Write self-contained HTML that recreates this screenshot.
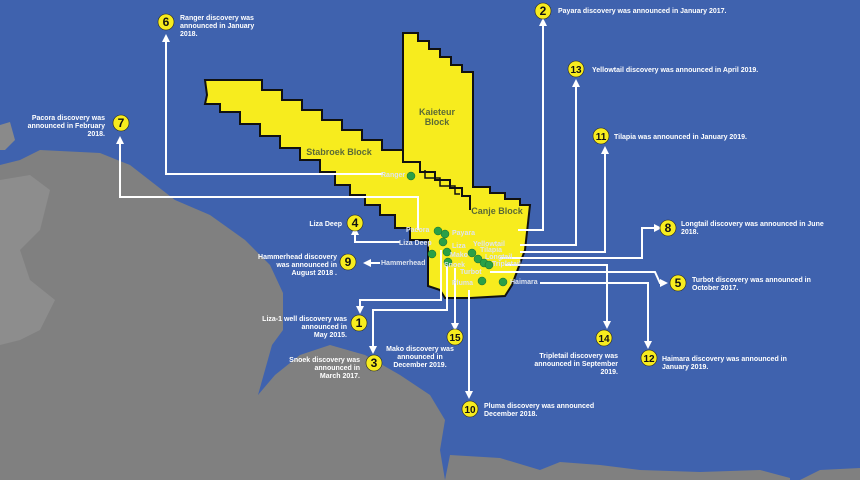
<!DOCTYPE html>
<html><head><meta charset="utf-8"><style>
html,body{margin:0;padding:0;background:#3f62ae;}
svg{display:block}
text{font-family:"Liberation Sans",sans-serif;}
.l{fill:#fff;font-size:7px;font-weight:bold}
.n{fill:#111;font-size:12px;font-weight:bold;text-anchor:middle}
.w{fill:#dfe4ef;font-size:7px;font-weight:bold}
.c{fill:none;stroke:#fff;stroke-width:2}
</style></head><body>
<svg width="860" height="480" viewBox="0 0 860 480" xmlns="http://www.w3.org/2000/svg">
<defs><marker id="a" viewBox="0 0 10 10" refX="5" refY="5" markerWidth="4" markerHeight="4" orient="auto-start-reverse"><path d="M0,0L10,5L0,10z" fill="#fff"/></marker></defs>
<rect width="860" height="480" fill="#3f62ae"/>
<!-- land -->
<path d="M0,125 L10,122 L15,140 L5,150 L0,150 Z" fill="#8a8a8a"/>
<path d="M0,165 L20,160 L40,150 L100,153 L130,165 L175,200 L210,215 L245,240 L270,265 L283,293 L283,330 L272,345 L258,395 L275,375 L300,355 L330,345 L365,355 L400,375 L430,395 L445,420 L440,450 L445,480 L0,480 Z" fill="#808080"/>
<path d="M0,180 L30,175 L50,190 L40,230 L20,250 L30,280 L55,300 L40,330 L20,340 L0,345 Z" fill="#9a9a9a" opacity="0.5"/>
<path d="M445,480 L450,455 L500,458 L540,470 L560,462 L600,465 L640,470 L700,472 L760,470 L790,478 L790,480 Z" fill="#808080"/>
<path d="M800,480 L820,470 L860,468 L860,480 Z" fill="#808080"/>
<!-- blocks -->
<path d="M205,80 L262,80 L262,90 L282,90 L282,100 L302,100 L302,110 L322,110 L322,120 L342,120 L342,130 L362,130 L362,140 L382,140 L382,150 L403,150 L403,33 L418,33 L418,41 L429,41 L429,49 L440,49 L440,57 L451,57 L451,65 L462,65 L462,72 L473,72 L473,187 L490,187 L490,193 L505,193 L505,199 L520,199 L520,205 L530,205 L525,250 L512,285 L505,296 L470,298 L445,298 L440,290 L428,286 L428,240 L410,240 L410,228 L395,228 L395,215 L380,215 L380,205 L365,205 L365,195 L350,195 L350,185 L335,185 L335,172 L320,172 L320,160 L300,160 L300,148 L280,148 L280,136 L260,136 L260,124 L240,124 L240,112 L220,112 L220,104 L205,104 L207,95 Z" fill="#f7ec1e" stroke="#111" stroke-width="2"/>
<path d="M403,150 L403,162 L420,162 L420,172 L435,172 L435,180 L450,180 L450,188 L462,188 L462,196 L470,196 L470,210" fill="none" stroke="#111" stroke-width="2"/>
<path d="M425,170 L425,178 L440,178 L440,186 L455,186 L455,194 L460,194" fill="none" stroke="#111" stroke-width="1.5"/>
<text x="339" y="155" text-anchor="middle" fill="#5b6a36" font-size="9" font-weight="bold">Stabroek Block</text>
<text x="437" y="115" text-anchor="middle" fill="#5b6a36" font-size="9" font-weight="bold">Kaieteur</text>
<text x="437" y="125" text-anchor="middle" fill="#5b6a36" font-size="9" font-weight="bold">Block</text>
<text x="497" y="214" text-anchor="middle" fill="#5b6a36" font-size="9" font-weight="bold">Canje Block</text>
<!-- connectors -->
<path class="c" d="M383,174 L166,174 L166,38" marker-end="url(#a)"/>
<path class="c" d="M418,230 L418,197 L120,197 L120,140" marker-end="url(#a)"/>
<path class="c" d="M400,242 L355,242 L355,231" marker-end="url(#a)"/>
<path class="c" d="M380,263 L367,263" marker-end="url(#a)"/>
<path class="c" d="M441,250 L441,300 L360,300 L360,310" marker-end="url(#a)"/>
<path class="c" d="M447,262 L447,310 L373,310 L373,350" marker-end="url(#a)"/>
<path class="c" d="M455,268 L455,327" marker-end="url(#a)"/>
<path class="c" d="M469,290 L469,395" marker-end="url(#a)"/>
<path class="c" d="M518,230 L543,230 L543,22" marker-end="url(#a)"/>
<path class="c" d="M520,245 L576,245 L576,83" marker-end="url(#a)"/>
<path class="c" d="M520,252 L605,252 L605,150" marker-end="url(#a)"/>
<path class="c" d="M500,258 L642,258 L642,228 L658,228" marker-end="url(#a)"/>
<path class="c" d="M505,265 L607,265 L607,325" marker-end="url(#a)"/>
<path class="c" d="M490,272 L655,272 L660,283 L664,283" marker-end="url(#a)"/>
<path class="c" d="M540,283 L648,283 L648,345" marker-end="url(#a)"/>
<!-- wells -->
<g fill="#2aa047" stroke="#1a6a2a" stroke-width="0.5">
<circle cx="411" cy="176" r="4"/><circle cx="438" cy="231" r="4"/><circle cx="445" cy="234" r="4"/><circle cx="443" cy="242" r="4"/><circle cx="432" cy="254" r="4"/><circle cx="447" cy="252" r="4"/><circle cx="448" cy="262" r="4"/><circle cx="472" cy="253" r="4"/><circle cx="478" cy="259" r="4"/><circle cx="484" cy="263" r="4"/><circle cx="489" cy="265" r="4"/><circle cx="482" cy="281" r="4"/><circle cx="503" cy="282" r="4"/>
</g>
<g class="w">
<text x="381" y="177">Ranger</text><text x="406" y="232">Pacora</text><text x="452" y="235">Payara</text>
<text x="399" y="245">Liza Deep</text><text x="452" y="248">Liza</text><text x="450" y="257">Mako</text>
<text x="473" y="246">Yellowtail</text><text x="480" y="252">Tilapia</text><text x="485" y="259">Longtail</text>
<text x="492" y="266">Tripletail</text><text x="381" y="265">Hammerhead</text><text x="444" y="267">Snoek</text>
<text x="460" y="274">Turbot</text><text x="452" y="285">Pluma</text><text x="510" y="284">Haimara</text>
</g>
<!-- badges -->
<g fill="#f7ec1e" stroke="#222" stroke-width="0.6">
<circle cx="166" cy="22" r="8"/><circle cx="121" cy="123" r="8"/><circle cx="543" cy="11" r="8"/><circle cx="576" cy="69" r="8"/>
<circle cx="601" cy="136" r="8"/><circle cx="355" cy="223" r="8"/><circle cx="348" cy="262" r="8"/><circle cx="668" cy="228" r="8"/>
<circle cx="678" cy="283" r="8"/><circle cx="359" cy="323" r="8"/><circle cx="374" cy="363" r="8"/><circle cx="455" cy="337" r="8"/>
<circle cx="604" cy="338" r="8"/><circle cx="649" cy="358" r="8"/><circle cx="470" cy="409" r="8"/>
</g>
<g class="n">
<text x="166" y="26">6</text><text x="121" y="127">7</text><text x="543" y="15">2</text><text x="576" y="73" font-size="10">13</text>
<text x="601" y="140" font-size="10">11</text><text x="355" y="227">4</text><text x="348" y="266">9</text><text x="668" y="232">8</text>
<text x="678" y="287">5</text><text x="359" y="327">1</text><text x="374" y="367">3</text><text x="455" y="341" font-size="10">15</text>
<text x="604" y="342" font-size="10">14</text><text x="649" y="362" font-size="10">12</text><text x="470" y="413" font-size="10">10</text>
</g>
<g class="l">
<text x="180" y="20">Ranger discovery was</text><text x="180" y="28">announced in January</text><text x="180" y="36">2018.</text>
<g text-anchor="end"><text x="105" y="120">Pacora discovery was</text><text x="105" y="128">announced in February</text><text x="105" y="136">2018.</text></g>
<text x="558" y="13">Payara discovery was announced in January 2017.</text>
<text x="592" y="72">Yellowtail discovery was announced in April 2019.</text>
<text x="614" y="139">Tilapia was announced in January 2019.</text>
<text x="342" y="226" text-anchor="end">Liza Deep</text>
<g text-anchor="end"><text x="337" y="259">Hammerhead discovery</text><text x="337" y="267">was announced in</text><text x="337" y="275">August 2018 .</text></g>
<text x="681" y="226">Longtail discovery was announced in June</text><text x="681" y="234">2018.</text>
<text x="692" y="282">Turbot discovery was announced in</text><text x="692" y="290">October 2017.</text>
<g text-anchor="end"><text x="347" y="321">Liza-1 well discovery was</text><text x="347" y="329">announced in</text><text x="347" y="337">May 2015.</text></g>
<g text-anchor="end"><text x="360" y="362">Snoek discovery was</text><text x="360" y="370">announced in</text><text x="360" y="378">March 2017.</text></g>
<g text-anchor="middle"><text x="420" y="351">Mako discovery was</text><text x="420" y="359">announced in</text><text x="420" y="367">December 2019.</text></g>
<g text-anchor="end"><text x="618" y="358">Tripletail discovery was</text><text x="618" y="366">announced in September</text><text x="618" y="374">2019.</text></g>
<text x="662" y="361">Haimara discovery was announced in</text><text x="662" y="369">January 2019.</text>
<text x="484" y="408">Pluma discovery was announced</text><text x="484" y="416">December 2018.</text>
</g>
</svg>
</body></html>
